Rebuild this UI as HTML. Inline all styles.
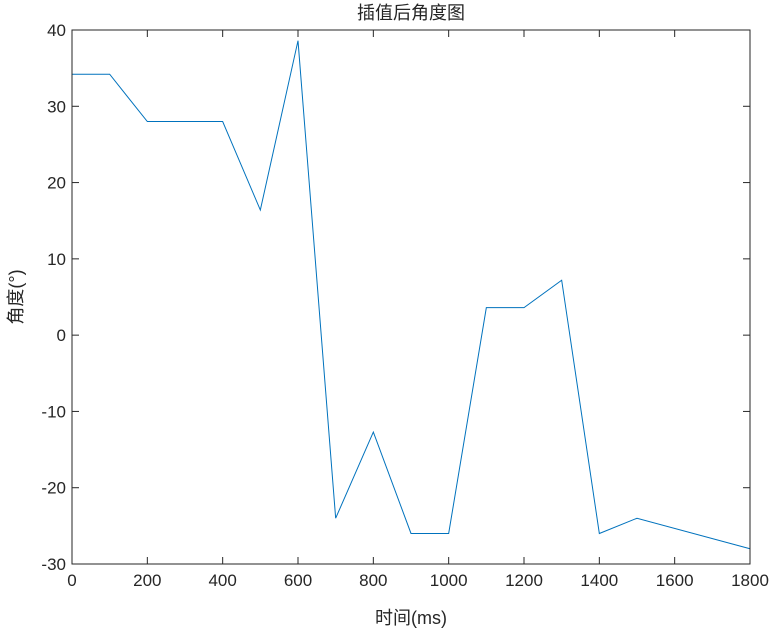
<!DOCTYPE html>
<html><head><meta charset="utf-8"><style>
body{margin:0;background:#fff;}
svg text{font-family:"Liberation Sans","Noto Sans CJK SC",sans-serif;fill:#262626;}
</style></head><body>
<svg id="chart" width="775" height="632" xmlns="http://www.w3.org/2000/svg">
<rect width="775" height="632" fill="#fff"/>
<text x="411" y="19" font-size="18" text-anchor="middle">插值后角度图</text>
<text x="411" y="624" font-size="18" text-anchor="middle">时间(ms)</text>
<text transform="translate(22,297) rotate(-90)" font-size="18" text-anchor="middle">角度(°)</text>
<g id="ticks"></g>
<polyline id="line" fill="none" stroke="#0072bd" stroke-width="1"/>
<rect x="72" y="30" width="678" height="534" fill="none" stroke="#262626" stroke-width="1"/>
</svg>
<script>
const xValues=[0,100,200,300,400,500,600,700,800,900,1000,1100,1200,1300,1400,1500,1800];
const yValues=[34.2,34.2,28,28,28,16.4,38.6,-24,-12.7,-26,-26,3.6,3.6,7.2,-26,-24,-28];
const xTicks=[0,200,400,600,800,1000,1200,1400,1600,1800];
const yTicks=[-30,-20,-10,0,10,20,30,40];
const L=72,R=750,T=30,B=564;
const sx=v=>L+(v-0)/1800*(R-L);
const sy=v=>B-(v+30)/70*(B-T);
const ns="http://www.w3.org/2000/svg";
const g=document.getElementById('ticks');
function mk(t,a){const e=document.createElementNS(ns,t);for(const k in a)e.setAttribute(k,a[k]);g.appendChild(e);return e;}
xTicks.forEach(v=>{const x=sx(v);
const t1=mk('line',{x1:x,x2:x,y1:B,y2:B-7,stroke:'#262626'});


const t2=mk('line',{x1:x,x2:x,y1:T,y2:T+7,stroke:'#262626'});


const tx=mk('text',{x:x,y:B+22,'font-size':17,'text-anchor':'middle'});tx.textContent=v;


});
yTicks.forEach(v=>{const y=sy(v);
const t1=mk('line',{x1:L,x2:L+7,y1:y,y2:y,stroke:'#262626'});


const t2=mk('line',{x1:R,x2:R-7,y1:y,y2:y,stroke:'#262626'});


const tx=mk('text',{x:L-6,y:y+6,'font-size':17,'text-anchor':'end'});tx.textContent=v;


});
document.getElementById('line').setAttribute('points',xValues.map((x,i)=>sx(x)+','+sy(yValues[i])).join(' '));
</script>
</body></html>
